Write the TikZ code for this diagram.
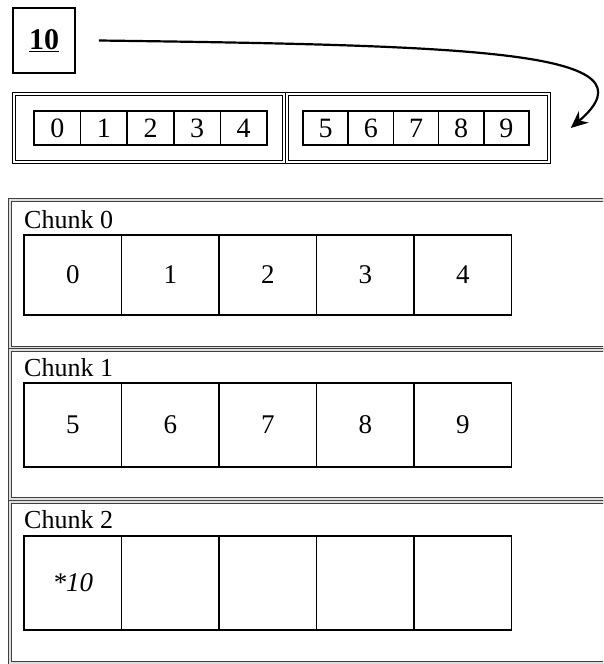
\documentclass[tikz,border=0pt]{standalone}
\usepackage{fontspec}
\setmainfont{Liberation Serif}
\usepackage{tikz}
\usetikzlibrary{arrows.meta, positioning, calc}

\begin{document}
\begin{tikzpicture}[
    x=1pt, y=-1pt,
    numbox/.style={rectangle, draw=black, line width=1.8pt, minimum width=62pt,
                   minimum height=65pt, inner sep=0pt, font=\fontsize{30}{32}\selectfont\bfseries},
    halfbox/.style={rectangle, draw=black, double=white, double distance=1.8pt, line width=1.5pt,
                    minimum height=68pt, inner sep=0pt},
    smallcell/.style={rectangle, draw=black, line width=1.6pt, minimum width=#1,
                      minimum height=34pt, inner sep=0pt, font=\fontsize{28}{30}\selectfont},
    smallcell/.default=46.6pt,
    chunkbox/.style={rectangle, draw=gray!50!black, double=gray!25, double distance=1.2pt,
                     line width=1.2pt, minimum width=605pt, inner sep=0pt},
    chunklabel/.style={anchor=base west, inner sep=0pt, font=\fontsize{26}{28}\selectfont},
    bigcell/.style={rectangle, draw=black, line width=1.7pt, minimum width=97.5pt,
                    minimum height=#1, inner sep=0pt, font=\fontsize{27}{29}\selectfont},
]
    \useasboundingbox (0,0) rectangle (603,664);
    \clip (0,0) rectangle (603,664);

    % New element
    \node[numbox] (ten) at (44,40.5) {\underline{10}};

    % Array split in two halves
    \node[halfbox, minimum width=270pt] (half0) at (149,128) {};
    \node[halfbox, minimum width=262pt] (half1) at (418,128) {};

    \node[smallcell] (a0) at (57.3,128) {0};
    \node[smallcell] (a1) at (103.9,128) {1};
    \node[smallcell] (a2) at (150.5,128) {2};
    \node[smallcell] (a3) at (197.1,128) {3};
    \node[smallcell] (a4) at (243.7,128) {4};

    \node[smallcell=45.2pt] (a5) at (325.6,128) {5};
    \node[smallcell=45.2pt] (a6) at (370.8,128) {6};
    \node[smallcell=45.2pt] (a7) at (416,128) {7};
    \node[smallcell=45.2pt] (a8) at (461.2,128) {8};
    \node[smallcell=45.2pt] (a9) at (506.4,128) {9};

    % Arrow
    \coordinate (arrstart) at ([xshift=23pt]ten.east);
    \coordinate (arrend) at ([xshift=21pt]half1.east);
    \draw[-{Stealth[length=17pt,width=15pt]}, line width=2.2pt]
        (arrstart) .. controls +(380,5) and +(90,-77) .. (arrend);

    % Chunk 0
    \node[chunkbox, minimum height=148pt] (chunk0) at (312.5,274) {};
    \node[chunklabel] (lab0) at (24,228) {Chunk 0};
    \node[bigcell=80pt] (c00) at (72.75,275) {0};
    \node[bigcell=80pt] (c01) at (170.25,275) {1};
    \node[bigcell=80pt] (c02) at (267.75,275) {2};
    \node[bigcell=80pt] (c03) at (365.25,275) {3};
    \node[bigcell=80pt] (c04) at (462.75,275) {4};

    % Chunk 1
    \node[chunkbox, minimum height=149pt] (chunk1) at (312.5,424.5) {};
    \node[chunklabel] (lab1) at (24,376) {Chunk 1};
    \node[bigcell=84pt] (c10) at (72.75,425) {5};
    \node[bigcell=84pt] (c11) at (170.25,425) {6};
    \node[bigcell=84pt] (c12) at (267.75,425) {7};
    \node[bigcell=84pt] (c13) at (365.25,425) {8};
    \node[bigcell=84pt] (c14) at (462.75,425) {9};

    % Chunk 2
    \node[chunkbox, minimum height=161pt] (chunk2) at (312.5,582.5) {};
    \node[chunklabel] (lab2) at (24,528) {Chunk 2};
    \node[bigcell=94pt] (c20) at (72.75,583) {\itshape *10};
    \node[bigcell=94pt] (c21) at (170.25,583) {};
    \node[bigcell=94pt] (c22) at (267.75,583) {};
    \node[bigcell=94pt] (c23) at (365.25,583) {};
    \node[bigcell=94pt] (c24) at (462.75,583) {};
\end{tikzpicture}
\end{document}
